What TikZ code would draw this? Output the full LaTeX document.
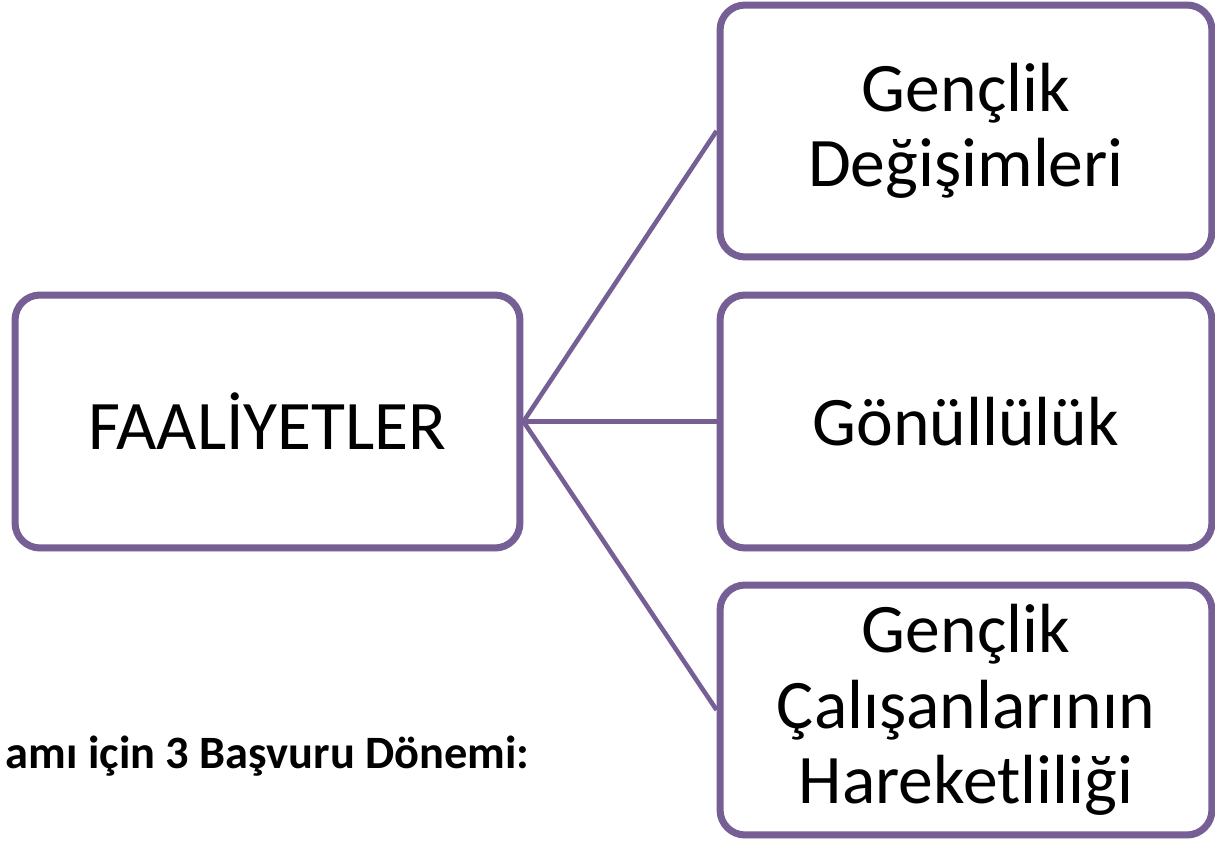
\documentclass[tikz,border=0pt]{standalone}
\usepackage{fontspec}
\setmainfont{Carlito}
\usetikzlibrary{shadows}
\definecolor{boxline}{RGB}{117,95,148}

\begin{document}
\begin{tikzpicture}[x=0.02cm,y=-0.02cm,
    kutu/.style={draw=boxline,line width=4pt,fill=white,rounded corners=0.5cm,
        align=center,inner sep=0pt,
        drop shadow={opacity=0.25,shadow xshift=0.6pt,shadow yshift=-2pt},
        font=\fontsize{39.6}{43}\selectfont},
    bag/.style={draw=boxline,line width=2.6pt}]
    \useasboundingbox (0,0) rectangle (1215,841);
    %\draw[help lines] (0,0) grid[step=100] (1215,841);
    \node[kutu,minimum width=10.1cm,minimum height=5.06cm] (faaliyet) at (267.5,421.5) {FAALİYETLER};
    \node[kutu,minimum width=9.84cm,minimum height=5.04cm] (degisim) at (966,131) {Gençlik\\Değişimleri};
    \node[kutu,minimum width=9.84cm,minimum height=5.06cm] (gonullu) at (966,421.5) {Gönüllülük};
    \node[kutu,minimum width=9.84cm,minimum height=5.0cm] (hareket) at (966,710) {Gençlik\\Çalışanlarının\\Hareketliliği};
    \path (faaliyet.east)
        edge[bag] (degisim.west)
        edge[bag] (gonullu.west)
        edge[bag] (hareket.west);
    \node[anchor=east,inner sep=0pt,font=\fontsize{26.4}{30}\selectfont\bfseries] (donem) at (530,756) {amı için 3 Başvuru Dönemi:};
\end{tikzpicture}
\end{document}
